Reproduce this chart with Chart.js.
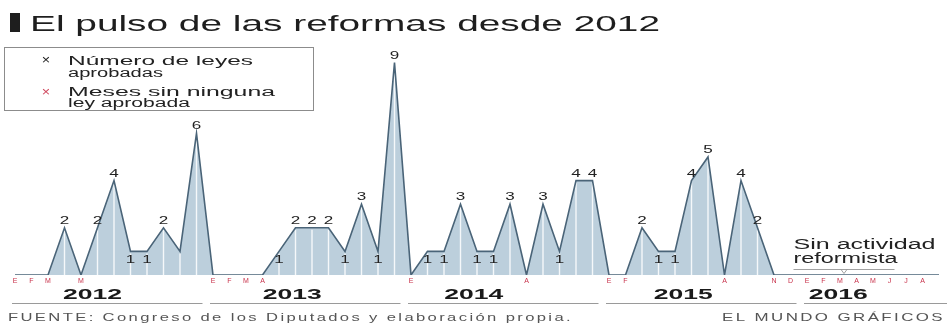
<!DOCTYPE html>
<html lang="es">
<head>
<meta charset="utf-8">
<title>El pulso de las reformas desde 2012</title>
<script src="https://cdn.jsdelivr.net/npm/chart.js@4/dist/chart.umd.min.js"></script>
<style>
  html, body { margin: 0; padding: 0; background: #fff; }
  #wrap { position: relative; width: 947px; height: 324px; }
</style>
</head>
<body>
<div id="wrap"><canvas id="pulso" width="947" height="324"></canvas></div>
<script>
var years = [2012, 2013, 2014, 2015, 2016];
var monthLetters = ['E', 'F', 'M', 'A', 'M', 'J', 'J', 'A', 'S', 'O', 'N', 'D'];

// leyes aprobadas cada mes
var leyes2012 = [0, 0, 0, 2, 0, 2, 4, 1, 1, 2, 1, 6];
var leyes2013 = [0, 0, 0, 0, 1, 2, 2, 2, 1, 3, 1, 9];
var leyes2014 = [0, 1, 1, 3, 1, 1, 3, 0, 3, 1, 4, 4];
var leyes2015 = [0, 0, 2, 1, 1, 4, 5, 0, 4, 2, 0, 0];
var leyes2016 = [0, 0, 0, 0, 0, 0, 0, 0, 0]; // hasta septiembre

// meses con dato pero sin cifra rotulada
var sinEtiqueta = ['2012-11'];

// donde va el rótulo de cada año, en meses desde enero
var yearLabelAt = [4.7, 4.8, 3.8, 4.5, 1.9];

var FONT = "'Liberation Sans', Arial, sans-serif";
var SX = 1.55; // el texto del gráfico va ensanchado

var series = [leyes2012, leyes2013, leyes2014, leyes2015, leyes2016];
var labels = [];
var values = [];
var letters = [];
series.forEach(function(arr, y) {
    arr.forEach(function(v, m) {
        labels.push(years[y] + '-' + String(m + 1).padStart(2, '0'));
        values.push(v);
        letters.push(monthLetters[m]);
    });
});

function txt(ctx, s, x, y, o) {
    ctx.save();
    ctx.font = o.font;
    ctx.fillStyle = o.color || '#222';
    ctx.letterSpacing = o.spacing || '0px';
    ctx.textBaseline = 'alphabetic';
    var w = ctx.measureText(s).width;
    var sx = o.w ? o.w / w : (o.sx || SX);
    var drawnW = w * sx;
    var left = x;
    if (o.align === 'center') left = x - drawnW / 2;
    if (o.align === 'right') left = x - drawnW;
    ctx.translate(left, y);
    ctx.scale(sx, 1);
    ctx.textAlign = 'left';
    ctx.fillText(s, 0, 0);
    ctx.restore();
}

// rayas blancas verticales dentro del área, una por mes
var monthRules = {
    id: 'monthRules',
    beforeDatasetDraw: function(chart) {
        var ctx = chart.ctx;
        var meta = chart.getDatasetMeta(0);
        var bottom = chart.scales.y.getPixelForValue(0);
        ctx.save();
        ctx.strokeStyle = 'rgba(255,255,255,0.85)';
        ctx.lineWidth = 1.4;
        meta.data.forEach(function(pt, i) {
            if (values[i] > 0) {
                ctx.beginPath();
                ctx.moveTo(pt.x, bottom);
                ctx.lineTo(pt.x, pt.y + 2);
                ctx.stroke();
            }
        });
        ctx.restore();
    }
};

var decorations = {
    id: 'decorations',
    afterDatasetsDraw: function(chart) {
        var ctx = chart.ctx;
        var xs = chart.scales.x;
        var meta = chart.getDatasetMeta(0);

        // cifras sobre los picos; los unos van por debajo de la línea
        meta.data.forEach(function(pt, i) {
            var v = values[i];
            if (v <= 0 || sinEtiqueta.indexOf(labels[i]) >= 0) return;
            var y = v === 1 ? pt.y + 12 : pt.y - 4;
            txt(ctx, String(v), pt.x, y, { font: '11px ' + FONT, align: 'center', color: '#222' });
        });

        // años y sus subrayados
        years.forEach(function(yr, k) {
            var jan = k * 12;
            var x0 = xs.getPixelForValue(jan) - 3;
            var x1 = k < years.length - 1 ? xs.getPixelForValue(jan + 11) + 6 : chart.width;
            ctx.save();
            ctx.strokeStyle = '#9a9a9a';
            ctx.lineWidth = 1;
            ctx.beginPath();
            ctx.moveTo(x0, 303.5);
            ctx.lineTo(x1, 303.5);
            ctx.stroke();
            ctx.restore();
            var cx = xs.getPixelForValue(jan) + yearLabelAt[k] * (xs.getPixelForValue(1) - xs.getPixelForValue(0));
            txt(ctx, String(yr), cx, 299, { font: 'bold 14px ' + FONT, align: 'center', w: 59, color: '#1a1a1a' });
        });

        // rótulo de los meses sin leyes en 2016
        var ax = xs.getPixelForValue(labels.indexOf('2015-12')) + 3;
        var bx = xs.getPixelForValue(labels.indexOf('2016-06')) + 5;
        txt(ctx, 'Sin actividad', ax, 249, { font: '14px ' + FONT, w: 142, color: '#222' });
        txt(ctx, 'reformista', ax, 263, { font: '14px ' + FONT, w: 104, color: '#222' });
        var mid = (ax + bx) / 2;
        ctx.save();
        ctx.strokeStyle = '#8a8a8a';
        ctx.lineWidth = 0.8;
        ctx.beginPath();
        ctx.moveTo(ax, 269.5);
        ctx.lineTo(bx, 269.5);
        ctx.moveTo(mid - 3, 269.5);
        ctx.lineTo(mid, 273.5);
        ctx.lineTo(mid + 3, 269.5);
        ctx.stroke();
        ctx.restore();

        // cabecera
        ctx.fillStyle = '#1e1e1e';
        ctx.fillRect(10, 13, 10, 19);
        txt(ctx, 'El pulso de las reformas desde 2012', 30, 31, { font: '22px ' + FONT, w: 630, color: '#1e1e1e' });

        // leyenda
        ctx.save();
        ctx.fillStyle = '#fff';
        ctx.fillRect(4, 47, 309, 63);
        ctx.strokeStyle = '#8c8c8c';
        ctx.lineWidth = 1;
        ctx.strokeRect(4.5, 47.5, 309, 63);
        ctx.restore();
        txt(ctx, '×', 46, 64, { font: '12px ' + FONT, align: 'center', sx: 1.2, color: '#222' });
        txt(ctx, 'Número de leyes', 68, 65, { font: '12.5px ' + FONT, w: 185, color: '#222' });
        txt(ctx, 'aprobadas', 68, 77, { font: '12.5px ' + FONT, w: 95, color: '#222' });
        txt(ctx, '×', 46, 96, { font: '12px ' + FONT, align: 'center', sx: 1.2, color: '#d0485e' });
        txt(ctx, 'Meses sin ninguna', 68, 96, { font: '12.5px ' + FONT, w: 207, color: '#222' });
        txt(ctx, 'ley aprobada', 68, 107, { font: '12.5px ' + FONT, w: 122, color: '#222' });

        // pie
        txt(ctx, 'FUENTE: Congreso de los Diputados y elaboración propia.', 8, 321,
            { font: '10.5px ' + FONT, w: 565, spacing: '1.5px', color: '#555' });
        txt(ctx, 'EL MUNDO GRÁFICOS', 945, 321,
            { font: '10.5px ' + FONT, w: 223, spacing: '1.5px', align: 'right', color: '#555' });
    }
};

new Chart(document.getElementById('pulso').getContext('2d'), {
    type: 'line',
    data: {
        labels: labels,
        datasets: [{
            data: values,
            borderColor: '#4a6478',
            borderWidth: 1.6,
            backgroundColor: '#bccfdc',
            fill: 'origin',
            pointRadius: 0,
            tension: 0
        }]
    },
    options: {
        responsive: false,
        animation: false,
        layout: { padding: { left: 15, right: 8, top: 39, bottom: 36.6 } },
        scales: {
            x: {
                offset: false,
                grid: { display: false, drawTicks: false },
                border: { display: false },
                ticks: {
                    autoSkip: false,
                    maxRotation: 0,
                    minRotation: 0,
                    padding: 2,
                    color: '#c8324b',
                    font: { size: 7, family: FONT },
                    callback: function(v, i) {
                        // el último punto solo prolonga la base hasta el borde
                        if (i === values.length - 1) return '';
                        return values[i] === 0 ? letters[i] : '';
                    }
                }
            },
            y: {
                display: false,
                min: 0,
                max: 10
            }
        },
        plugins: {
            legend: { display: false },
            tooltip: { enabled: false }
        }
    },
    plugins: [monthRules, decorations]
});
</script>
</body>
</html>
